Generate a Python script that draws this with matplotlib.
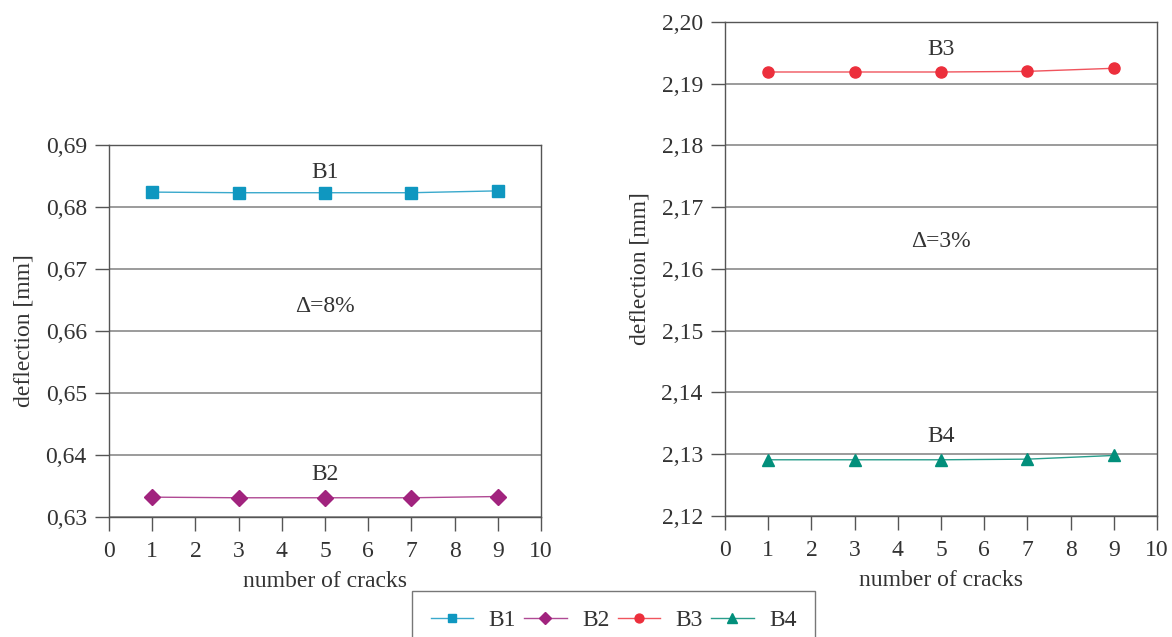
import matplotlib
matplotlib.use("Agg")
import matplotlib.pyplot as plt
from matplotlib.ticker import FuncFormatter, MultipleLocator

plt.rcParams['font.family'] = ['Liberation Serif', 'DejaVu Serif']

cracks = [1, 3, 5, 7, 9]
B1 = [0.6824, 0.6823, 0.6823, 0.6823, 0.6826]
B2 = [0.6332, 0.6331, 0.6331, 0.6331, 0.6333]
B3 = [2.1919, 2.1919, 2.1919, 2.1920, 2.1925]
B4 = [2.1291, 2.1291, 2.1291, 2.1292, 2.1298]

c1, c2, c3, c4 = '#0f97c0', '#a1237e', '#ec2f3c', '#028f7b'
l1, l2, l3, l4 = '#3aa9cc', '#b04a94', '#f0545d', '#2a9e8c'

fig = plt.figure(figsize=(11.72, 6.37), dpi=100)
axL = fig.add_axes([0.093, 0.1884, 0.3686, 0.584])
axR = fig.add_axes([0.6186, 0.19, 0.3686, 0.7755])

fs = 17
comma = FuncFormatter(lambda v, p: f"{v:.2f}".replace('.', ','))

def style(ax, ylo, yhi):
    ax.set_xlim(0, 10)
    ax.set_ylim(ylo, yhi)
    ax.xaxis.set_major_locator(MultipleLocator(1))
    ax.yaxis.set_major_locator(MultipleLocator(0.01))
    ax.yaxis.set_major_formatter(comma)
    ax.grid(axis='y', color='#8a8a8a', linewidth=1.2)
    ax.set_axisbelow(True)
    for s in ax.spines.values():
        s.set_color('#555555')
        s.set_linewidth(1.0)
    ax.tick_params(direction='out', length=10, width=1, color='#555555',
                   labelsize=fs, labelcolor='#333333')
    ax.tick_params(axis='y', pad=6)
    ax.tick_params(axis='x', pad=7)
    ax.set_xlabel('number of cracks', fontsize=fs, color='#333333', labelpad=7)
    ax.set_ylabel('deflection [mm]', fontsize=fs, color='#333333', labelpad=8)

style(axL, 0.63, 0.69)
style(axR, 2.12, 2.20)

h1, = axL.plot(cracks, B1, color=l1, lw=1.0, marker='s', ms=8, mfc=c1, mec=c1, label='B1')
h2, = axL.plot(cracks, B2, color=l2, lw=1.0, marker='D', ms=8, mfc=c2, mec=c2, label='B2')
h3, = axR.plot(cracks, B3, color=l3, lw=1.0, marker='o', ms=8, mfc=c3, mec=c3, label='B3')
h4, = axR.plot(cracks, B4, color=l4, lw=1.0, marker='^', ms=9, mfc=c4, mec=c4, label='B4')

tc = '#333333'
axL.text(5, 0.6856, 'B1', ha='center', va='center', fontsize=fs, color=tc)
axL.text(5, 0.6369, 'B2', ha='center', va='center', fontsize=fs, color=tc)
axL.text(5, 0.6640, '\u0394=8%', ha='center', va='center', fontsize=fs, color=tc)
axR.text(5, 2.1956, 'B3', ha='center', va='center', fontsize=fs, color=tc)
axR.text(5, 2.1328, 'B4', ha='center', va='center', fontsize=fs, color=tc)
axR.text(5, 2.1644, '\u0394=3%', ha='center', va='center', fontsize=fs, color=tc)

leg = fig.legend(handles=[h1, h2, h3, h4], loc='upper center',
                 bbox_to_anchor=(0.5235, 0.0722), ncol=4, fontsize=fs,
                 frameon=True, fancybox=False, edgecolor='#555555',
                 handlelength=1.8, columnspacing=0.35, handletextpad=0.65,
                 borderpad=0.8, borderaxespad=0.0, markerscale=0.8, labelcolor=tc)
leg.get_frame().set_linewidth(1.0)

fig.savefig('out.png', dpi=100)
